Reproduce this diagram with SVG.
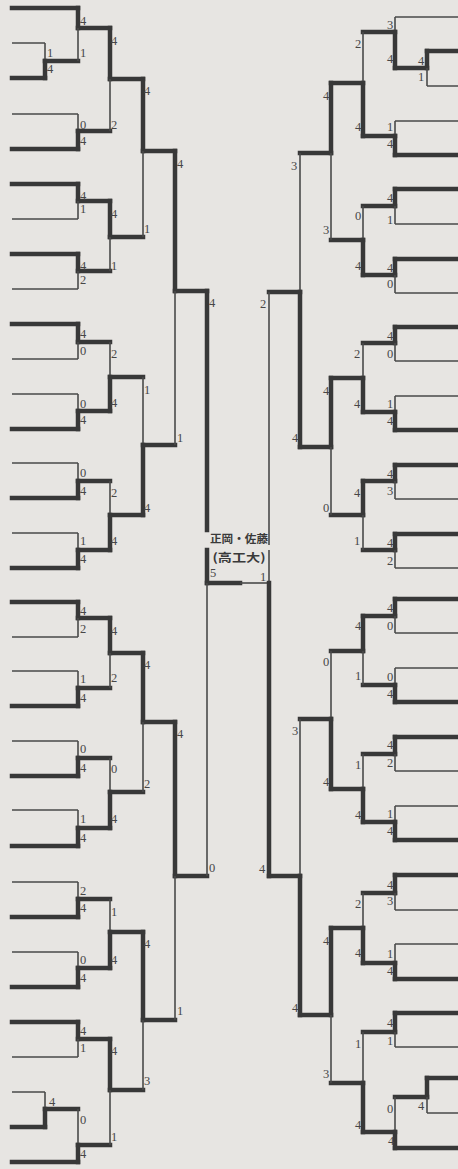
<svg xmlns="http://www.w3.org/2000/svg" width="458" height="1169" viewBox="0 0 458 1169">
<style>
.k{stroke:#383838;stroke-width:4.5;fill:none;stroke-linecap:square}
.t{stroke:#4a4a4a;stroke-width:1.6;fill:none}
text{font-family:"Liberation Serif",serif;font-size:12.5px;fill:#474747;text-anchor:middle}
.c{font-family:"Noto Sans CJK JP",sans-serif;font-size:11.5px;fill:#3a3a3a;font-weight:bold}
</style>
<rect width="458" height="1169" fill="#e7e5e2"/>
<g id="entries">
<path class="k" d="M12 8H78M12 78H45M12 149H78M12 184H78M12 254H78M12 324H78M12 429H78M12 498H78M12 568H78M12 602H78M12 706H78M12 776H78M12 846H78M12 917H78M12 987H78M12 1022H78M12 1127H45M12 1162H78"/>
<path class="t" d="M12 43H45M12 114H78M12 219H78M12 289H78M12 359H78M12 394H78M12 463H78M12 533H78M12 637H78M12 671H78M12 741H78M12 810H78M12 882H78M12 952H78M12 1057H78M12 1092H45"/>
<path class="k" d="M427 51H460M395 155H460M395 189H460M395 259H460M395 327H460M395 430H460M395 465H460M395 534H460M395 599H460M395 702H460M395 737H460M395 840H460M395 875H460M395 979H460M395 1013H460M427 1078H460M395 1148H460"/>
<path class="t" d="M395 17H458M427 86H458M395 121H458M395 224H458M395 293H458M395 361H458M395 396H458M395 499H458M395 568H458M395 633H458M395 668H458M395 771H458M395 806H458M395 910H458M395 944H458M395 1047H458M427 1113H458"/>
</g>
<g id="connectors">
<path class="k" d="M45 61H78M78 28H110M78 131H110M110 79H143M78 201H110M78 271H110M110 237H143M143 151H175M78 342H110M78 411H110M110 377H143M78 481H110M78 550H110M110 515H143M143 445H175M175 291H207M78 618H110M78 688H110M110 653H143M78 758H110M78 828H110M110 792H143M143 722H175M78 899H110M78 968H110M110 932H143M78 1039H110M45 1109H78M78 1145H110M110 1090H143M143 1020H175M175 876H207"/>
<path class="k" d="M395 68H427M363 32H395M363 136H395M331 83H363M363 206H395M363 275H395M331 240H363M300 153H331M363 343H395M363 412H395M331 378H363M363 481H395M363 550H395M331 515H363M300 447H331M269 292H300M363 616H395M363 685H395M331 651H363M363 754H395M363 822H395M331 789H363M300 719H331M363 893H395M363 963H395M331 928H363M363 1032H395M395 1097H427M363 1132H395M331 1083H363M300 1015H331M269 876H300"/>
<path class="k" d="M207 583H240"/>
<path class="t" d="M240 583H269"/>
</g>
<g id="left">
<g id="L1"><path class="t" d="M45 43V61"/><path class="k" d="M45 61V78"/><text x="50" y="56.5">1</text><text x="50" y="72.5">4</text></g>
<g id="L2"><path class="k" d="M78 8V28"/><path class="t" d="M78 28V61"/><text x="83" y="24.5">4</text><text x="83" y="56.5">1</text></g>
<g id="L3"><path class="t" d="M78 114V131"/><path class="k" d="M78 131V149"/><text x="83" y="128.5">0</text><text x="83" y="144.5">4</text></g>
<g id="L4"><path class="k" d="M110 28V79"/><path class="t" d="M110 79V131"/><text x="114" y="44.5">4</text><text x="114" y="128.5">2</text></g>
<g id="L5"><path class="k" d="M78 184V201"/><path class="t" d="M78 201V219"/><text x="83" y="199.5">4</text><text x="83" y="212.5">1</text></g>
<g id="L6"><path class="k" d="M78 254V271"/><path class="t" d="M78 271V289"/><text x="83" y="269.5">4</text><text x="83" y="283.5">2</text></g>
<g id="L7"><path class="k" d="M110 201V237"/><path class="t" d="M110 237V271"/><text x="114" y="217.5">4</text><text x="114" y="269.5">1</text></g>
<g id="L8"><path class="k" d="M143 79V151"/><path class="t" d="M143 151V237"/><text x="147" y="94.5">4</text><text x="147" y="232.5">1</text></g>
<g id="L9"><path class="k" d="M78 324V342"/><path class="t" d="M78 342V359"/><text x="83" y="337.5">4</text><text x="83" y="354.5">0</text></g>
<g id="L10"><path class="t" d="M78 394V411"/><path class="k" d="M78 411V429"/><text x="83" y="407.5">0</text><text x="83" y="423.5">4</text></g>
<g id="L11"><path class="t" d="M110 342V377"/><path class="k" d="M110 377V411"/><text x="114" y="357.5">2</text><text x="114" y="406.5">4</text></g>
<g id="L12"><path class="t" d="M78 463V481"/><path class="k" d="M78 481V498"/><text x="83" y="476.5">0</text><text x="83" y="494.5">4</text></g>
<g id="L13"><path class="t" d="M78 533V550"/><path class="k" d="M78 550V568"/><text x="83" y="544.5">1</text><text x="83" y="562.5">4</text></g>
<g id="L14"><path class="t" d="M110 481V515"/><path class="k" d="M110 515V550"/><text x="114" y="496.5">2</text><text x="114" y="544.5">4</text></g>
<g id="L15"><path class="t" d="M143 377V445"/><path class="k" d="M143 445V515"/><text x="147" y="393.5">1</text><text x="147" y="511.5">4</text></g>
<g id="L16"><path class="k" d="M175 151V291"/><path class="t" d="M175 291V445"/><text x="180" y="167.5">4</text><text x="180" y="441.5">1</text></g>
<g id="L17"><path class="k" d="M78 602V618"/><path class="t" d="M78 618V637"/><text x="83" y="614.5">4</text><text x="83" y="632.5">2</text></g>
<g id="L18"><path class="t" d="M78 671V688"/><path class="k" d="M78 688V706"/><text x="83" y="682.5">1</text><text x="83" y="701.5">4</text></g>
<g id="L19"><path class="k" d="M110 618V653"/><path class="t" d="M110 653V688"/><text x="114" y="634.5">4</text><text x="114" y="681.5">2</text></g>
<g id="L20"><path class="t" d="M78 741V758"/><path class="k" d="M78 758V776"/><text x="83" y="752.5">0</text><text x="83" y="771.5">4</text></g>
<g id="L21"><path class="t" d="M78 810V828"/><path class="k" d="M78 828V846"/><text x="83" y="822.5">1</text><text x="83" y="841.5">4</text></g>
<g id="L22"><path class="t" d="M110 758V792"/><path class="k" d="M110 792V828"/><text x="114" y="772.5">0</text><text x="114" y="822.5">4</text></g>
<g id="L23"><path class="k" d="M143 653V722"/><path class="t" d="M143 722V792"/><text x="147" y="668.5">4</text><text x="147" y="787.5">2</text></g>
<g id="L24"><path class="t" d="M78 882V899"/><path class="k" d="M78 899V917"/><text x="83" y="894.5">2</text><text x="83" y="911.5">4</text></g>
<g id="L25"><path class="t" d="M78 952V968"/><path class="k" d="M78 968V987"/><text x="83" y="963.5">0</text><text x="83" y="981.5">4</text></g>
<g id="L26"><path class="t" d="M110 899V932"/><path class="k" d="M110 932V968"/><text x="114" y="915.5">1</text><text x="114" y="963.5">4</text></g>
<g id="L27"><path class="k" d="M78 1022V1039"/><path class="t" d="M78 1039V1057"/><text x="83" y="1034.5">4</text><text x="83" y="1051.5">1</text></g>
<g id="L28"><path class="t" d="M45 1092V1109"/><path class="k" d="M45 1109V1127"/><text x="52" y="1105.5">4</text></g>
<g id="L29"><path class="t" d="M78 1109V1145"/><path class="k" d="M78 1145V1162"/><text x="83" y="1123.5">0</text><text x="83" y="1157.5">4</text></g>
<g id="L30"><path class="k" d="M110 1039V1090"/><path class="t" d="M110 1090V1145"/><text x="114" y="1054.5">4</text><text x="114" y="1140.5">1</text></g>
<g id="L31"><path class="k" d="M143 932V1020"/><path class="t" d="M143 1020V1090"/><text x="147" y="947.5">4</text><text x="147" y="1084.5">3</text></g>
<g id="L32"><path class="k" d="M175 722V876"/><path class="t" d="M175 876V1020"/><text x="180" y="737.5">4</text><text x="180" y="1014.5">1</text></g>
<g id="L33"><path class="k" d="M207 291V530M207 550V583"/><path class="t" d="M207 583V876"/><text x="212" y="306.5">4</text><text x="212" y="871.5">0</text><text x="213" y="576.5">5</text></g>
</g>
<g id="right">
<g id="R1"><path class="k" d="M427 51V68"/><path class="t" d="M427 68V86"/><text x="421" y="64.5">4</text><text x="421" y="80.5">1</text></g>
<g id="R2"><path class="t" d="M395 17V32"/><path class="k" d="M395 32V68"/><text x="390" y="28.5">3</text><text x="390" y="62.5">4</text></g>
<g id="R3"><path class="t" d="M395 121V136"/><path class="k" d="M395 136V155"/><text x="390" y="130.5">1</text><text x="390" y="147.5">4</text></g>
<g id="R4"><path class="t" d="M363 32V83"/><path class="k" d="M363 83V136"/><text x="358" y="47.5">2</text><text x="358" y="130.5">4</text></g>
<g id="R5"><path class="k" d="M395 189V206"/><path class="t" d="M395 206V224"/><text x="390" y="201.5">4</text><text x="390" y="223.5">1</text></g>
<g id="R6"><path class="k" d="M395 259V275"/><path class="t" d="M395 275V293"/><text x="390" y="271.5">4</text><text x="390" y="287.5">0</text></g>
<g id="R7"><path class="t" d="M363 206V240"/><path class="k" d="M363 240V275"/><text x="358" y="219.5">0</text><text x="358" y="269.5">4</text></g>
<g id="R8"><path class="k" d="M331 83V153"/><path class="t" d="M331 153V240"/><text x="326" y="99.5">4</text><text x="326" y="233.5">3</text></g>
<g id="R9"><path class="k" d="M395 327V343"/><path class="t" d="M395 343V361"/><text x="390" y="339.5">4</text><text x="390" y="357.5">0</text></g>
<g id="R10"><path class="t" d="M395 396V412"/><path class="k" d="M395 412V430"/><text x="390" y="407.5">1</text><text x="390" y="424.5">4</text></g>
<g id="R11"><path class="t" d="M363 343V378"/><path class="k" d="M363 378V412"/><text x="357" y="357.5">2</text><text x="357" y="407.5">4</text></g>
<g id="R12"><path class="k" d="M395 465V481"/><path class="t" d="M395 481V499"/><text x="390" y="477.5">4</text><text x="390" y="494.5">3</text></g>
<g id="R13"><path class="k" d="M395 534V550"/><path class="t" d="M395 550V568"/><text x="390" y="546.5">4</text><text x="390" y="564.5">2</text></g>
<g id="R14"><path class="k" d="M363 481V515"/><path class="t" d="M363 515V550"/><text x="357" y="496.5">4</text><text x="357" y="544.5">1</text></g>
<g id="R15"><path class="k" d="M331 378V447"/><path class="t" d="M331 447V515"/><text x="326" y="394.5">4</text><text x="326" y="511.5">0</text></g>
<g id="R16"><path class="t" d="M300 153V292"/><path class="k" d="M300 292V447"/><text x="294" y="169.5">3</text><text x="295" y="441.5">4</text></g>
<g id="R17"><path class="k" d="M395 599V616"/><path class="t" d="M395 616V633"/><text x="390" y="611.5">4</text><text x="390" y="629.5">0</text></g>
<g id="R18"><path class="t" d="M395 668V685"/><path class="k" d="M395 685V702"/><text x="390" y="680.5">0</text><text x="390" y="697.5">4</text></g>
<g id="R19"><path class="k" d="M363 616V651"/><path class="t" d="M363 651V685"/><text x="358" y="629.5">4</text><text x="358" y="679.5">1</text></g>
<g id="R20"><path class="k" d="M395 737V754"/><path class="t" d="M395 754V771"/><text x="390" y="748.5">4</text><text x="390" y="766.5">2</text></g>
<g id="R21"><path class="t" d="M395 806V822"/><path class="k" d="M395 822V840"/><text x="390" y="817.5">1</text><text x="390" y="834.5">4</text></g>
<g id="R22"><path class="t" d="M363 754V789"/><path class="k" d="M363 789V822"/><text x="358" y="768.5">1</text><text x="358" y="818.5">4</text></g>
<g id="R23"><path class="t" d="M331 651V719"/><path class="k" d="M331 719V789"/><text x="326" y="665.5">0</text><text x="326" y="785.5">4</text></g>
<g id="R24"><path class="k" d="M395 875V893"/><path class="t" d="M395 893V910"/><text x="390" y="888.5">4</text><text x="390" y="904.5">3</text></g>
<g id="R25"><path class="t" d="M395 944V963"/><path class="k" d="M395 963V979"/><text x="390" y="957.5">1</text><text x="390" y="974.5">4</text></g>
<g id="R26"><path class="t" d="M363 893V928"/><path class="k" d="M363 928V963"/><text x="358" y="907.5">2</text><text x="358" y="956.5">4</text></g>
<g id="R27"><path class="k" d="M395 1013V1032"/><path class="t" d="M395 1032V1047"/><text x="390" y="1026.5">4</text><text x="390" y="1044.5">1</text></g>
<g id="R28"><path class="k" d="M427 1078V1097"/><path class="t" d="M427 1097V1113"/><text x="421" y="1109.5">4</text></g>
<g id="R29"><path class="t" d="M395 1097V1132"/><path class="k" d="M395 1132V1148"/><text x="390" y="1112.5">0</text><text x="391" y="1144.5">4</text></g>
<g id="R30"><path class="t" d="M363 1032V1083"/><path class="k" d="M363 1083V1132"/><text x="358" y="1047.5">1</text><text x="358" y="1128.5">4</text></g>
<g id="R31"><path class="k" d="M331 928V1015"/><path class="t" d="M331 1015V1083"/><text x="326" y="944.5">4</text><text x="326" y="1077.5">3</text></g>
<g id="R32"><path class="t" d="M300 719V876"/><path class="k" d="M300 876V1015"/><text x="295" y="734.5">3</text><text x="295" y="1011.5">4</text></g>
<g id="R33"><path class="t" d="M269 292V545M269 550V583"/><path class="k" d="M269 583V876"/><text x="263" y="307.5">2</text><text x="262" y="872.5">4</text><text x="263" y="580.5">1</text></g>
</g>
<g id="champion">
<text class="c" x="239" y="543" textLength="58" lengthAdjust="spacingAndGlyphs">正岡・佐藤</text>
<text class="c" x="239" y="562" textLength="53" lengthAdjust="spacingAndGlyphs">(高工大)</text>
</g>
</svg>
